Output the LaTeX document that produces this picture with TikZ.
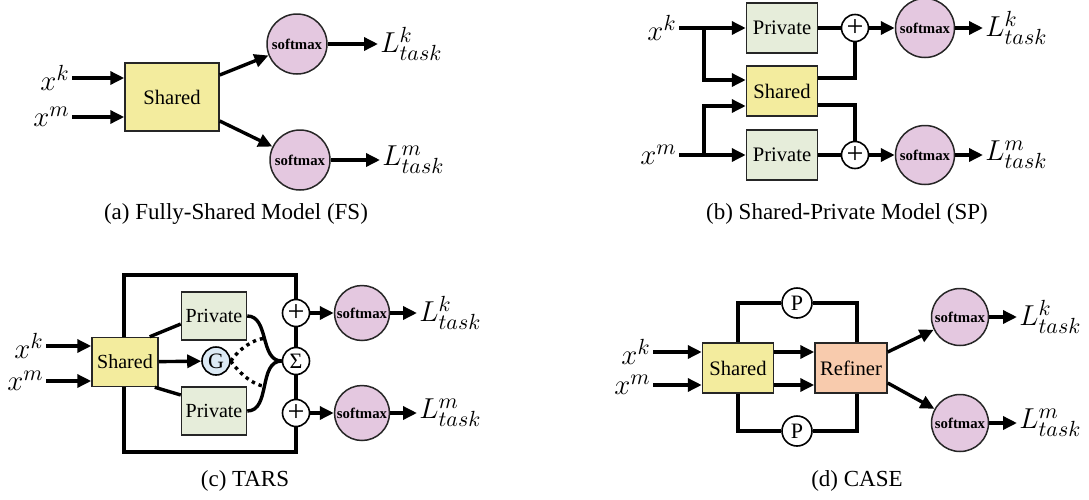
\documentclass[tikz,border=0pt]{standalone}
\usepackage{fontspec}
\setmainfont{Liberation Serif}
\usetikzlibrary{arrows.meta}
\DeclareMathSizes{13.5}{13.5}{10.8}{8}
\tikzset{
  box/.style = {draw = black!85, line width = 0.75pt, inner sep = 1pt, font = \fontsize{10.3}{12}\selectfont},
  sharedbox/.style = {box, fill = sharedcol},
  privbox/.style = {box, fill = privcol},
  refbox/.style = {box, fill = refcol},
  soft/.style = {circle, draw = black!85, line width = 0.75pt, fill = softcol, inner sep = 0pt, minimum size = 29.5pt, font = \fontsize{7.4}{9}\selectfont\bfseries},
  op/.style = {circle, draw = black, line width = 0.8pt, fill = white, inner sep = 0pt, minimum size = 13.5pt, font = \fontsize{11}{12}\selectfont},
  plus/.style = {op, font = \fontsize{15}{15}\selectfont},
  lbl/.style = {inner sep = 1pt, font = \fontsize{13.5}{15}\selectfont},
  captext/.style = {inner sep = 1pt, font = \fontsize{11.5}{13}\selectfont},
  wire/.style = {line width = 1.7pt},
  arr/.style = {wire, -{Triangle[length = 7pt, width = 6.5pt]}},
  dotwire/.style = {wire, dotted}
}
\begin{document}
\begin{tikzpicture}[x = 0.5pt, y = -0.5pt]
\definecolor{sharedcol}{HTML}{F3EC9E}
\definecolor{privcol}{HTML}{E6EDDA}
\definecolor{softcol}{HTML}{E4C8E0}
\definecolor{gcol}{HTML}{DCEAF5}
\definecolor{refcol}{HTML}{F8CBAD}
\useasboundingbox (0,0) rectangle (1089,499);
% (a) fully shared
\node[sharedbox, minimum width = 47pt, minimum height = 34pt] (aS) at (172,97) {Shared};
\node[soft, minimum size = 30pt] (aT1) at (297,44) {softmax};
\node[soft, minimum size = 30pt] (aT2) at (300,160) {softmax};
\node[lbl, anchor = east] (aXk) at (72,78) {$x^k$};
\node[lbl, anchor = east] (aXm) at (72,117) {$x^m$};
\node[lbl, anchor = west] (aLk) at (378,44) {$L^k_{task}$};
\node[lbl, anchor = west] (aLm) at (380,160) {$L^m_{task}$};
\foreach \v in {aXk,aXm} \draw[arr] (\v.east) -- (\v.east -| aS.west);
\draw[arr] ([yshift = 11pt]aS.east) -- (aT1);
\draw[arr] ([yshift = -12pt]aS.east) -- (aT2);
\draw[arr] (aT1) -- (aLk);
\draw[arr] (aT2) -- (aLm);
\node[captext] (aC) at (236,214) {(a) Fully-Shared Model (FS)};
% (b) shared private
\node[privbox, minimum width = 35.5pt, minimum height = 25pt] (bP1) at (782,28) {Private};
\node[sharedbox, minimum width = 35.5pt, minimum height = 25pt] (bS) at (782,91) {Shared};
\node[privbox, minimum width = 35.5pt, minimum height = 25pt] (bP2) at (782,155) {Private};
\node[lbl, anchor = east] (bXk) at (679,28) {$x^k$};
\node[lbl, anchor = east] (bXm) at (679,155) {$x^m$};
\coordinate (bJk) at (704,28);
\coordinate (bJm) at (704,155);
\node[plus] (bA1) at (855,28) {+};
\node[plus] (bA2) at (855,155) {+};
\node[soft] (bT1) at (925,28) {softmax};
\node[soft] (bT2) at (925,155) {softmax};
\node[lbl, anchor = west] (bLk) at (983,28) {$L^k_{task}$};
\node[lbl, anchor = west] (bLm) at (983,155) {$L^m_{task}$};
\draw[arr] (bXk.east) -- (bP1.west);
\draw[arr] (bXm.east) -- (bP2.west);
\draw[arr] (bJk) |- ([yshift = 5.5pt]bS.west);
\draw[arr] (bJm) |- ([yshift = -7.5pt]bS.west);
\draw[wire] (bP1) -- (bA1);
\draw[wire] (bP2) -- (bA2);
\draw[wire] ([yshift = 6.5pt]bS.east) -| (bA1);
\draw[wire] ([yshift = -7pt]bS.east) -| (bA2);
\foreach \i/\l in {1/k,2/m} {
  \draw[arr] (bA\i) -- (bT\i);
  \draw[arr] (bT\i) -- (bL\l);
}
\node[captext] (bC) at (847,214) {(b) Shared-Private Model (SP)};
% (c) TARS
\draw[wire] (124,275) rectangle (296,452);
\node[sharedbox, minimum width = 33pt, minimum height = 24.5pt, font = \fontsize{10}{12}\selectfont] (cS) at (125,362) {Shared};
\node[privbox, minimum width = 32.5pt, minimum height = 24pt, font = \fontsize{10}{12}\selectfont] (cP1) at (214,316) {Private};
\node[privbox, minimum width = 32.5pt, minimum height = 24pt, font = \fontsize{10}{12}\selectfont] (cP2) at (214,411) {Private};
\node[op, fill = gcol, minimum size = 14pt] (cG) at (216,361) {G};
\node[plus] (cA1) at (296,313) {+};
\node[op] (cSum) at (296,361) {Σ};
\node[plus] (cA2) at (296,413) {+};
\node[soft, minimum size = 27.5pt] (cT1) at (362,313) {softmax};
\node[soft, minimum size = 27.5pt] (cT2) at (362,413) {softmax};
\node[lbl, anchor = east] (cXk) at (46,346) {$x^k$};
\node[lbl, anchor = east] (cXm) at (46,381) {$x^m$};
\node[lbl, anchor = west] (cLk) at (417,313) {$L^k_{task}$};
\node[lbl, anchor = west] (cLm) at (417,413) {$L^m_{task}$};
\foreach \v in {cXk,cXm} \draw[arr] (\v.east) -- (\v.east -| cS.west);
\draw[wire] ([xshift = -4.5pt]cS.north east) -- ([yshift = -4pt]cP1.west);
\draw[wire] ([xshift = -2pt]cS.south east) -- ([yshift = 8pt]cP2.west);
\draw[arr] (cS) -- (cG);
\draw[wire] (cP1.east) to[out = 0, in = 180] coordinate[pos = 0.5] (cM1) (cSum.west);
\draw[wire] (cP2.east) to[out = 0, in = 180] coordinate[pos = 0.5] (cM2) (cSum.west);
\draw[dotwire] (cG.east) .. controls ([shift = {(8,-12)}]cG.east) and ([shift = {(-10,0)}]cM1) .. (cM1);
\draw[dotwire] (cG.east) .. controls ([shift = {(8,12)}]cG.east) and ([shift = {(-10,0)}]cM2) .. (cM2);
\foreach \i/\l in {1/k,2/m} {
  \draw[arr] (cA\i) -- (cT\i);
  \draw[arr] (cT\i) -- (cL\l);
}
\node[captext] (cC) at (245,481) {(c) TARS};
% (d) CASE
\node[sharedbox, minimum width = 35.5pt, minimum height = 25pt] (dS) at (738,368) {Shared};
\node[refbox, minimum width = 36pt, minimum height = 25pt] (dR) at (851,368) {Refiner};
\node[op, minimum size = 15pt] (dP1) at (797,303) {P};
\node[op, minimum size = 15pt] (dP2) at (797,431) {P};
\node[soft, minimum size = 28.5pt] (dT1) at (960,317) {softmax};
\node[soft, minimum size = 28.5pt] (dT2) at (960,423) {softmax};
\node[lbl, anchor = east] (dXk) at (653,352) {$x^k$};
\node[lbl, anchor = east] (dXm) at (653,385) {$x^m$};
\node[lbl, anchor = west] (dLk) at (1017,317) {$L^k_{task}$};
\node[lbl, anchor = west] (dLm) at (1017,423) {$L^m_{task}$};
\foreach \v in {dXk,dXm} {
  \draw[arr] (\v.east) -- (\v.east -| dS.west);
  \draw[arr] (\v.east -| dS.east) -- (\v.east -| dR.west);
}
\draw[wire] (dS.north) |- (dP1.west);
\draw[wire] (dP1.east) -| ([xshift = 3pt]dR.north);
\draw[wire] (dS.south) |- (dP2.west);
\draw[wire] (dP2.east) -| ([xshift = 3pt]dR.south);
\draw[arr] ([yshift = 8pt]dR.east) -- (dT1);
\draw[arr] ([yshift = -7.5pt]dR.east) -- (dT2);
\draw[arr] (dT1) -- (dLk);
\draw[arr] (dT2) -- (dLm);
\node[captext] (dC) at (857,481) {(d) CASE};
\end{tikzpicture}
\end{document}
